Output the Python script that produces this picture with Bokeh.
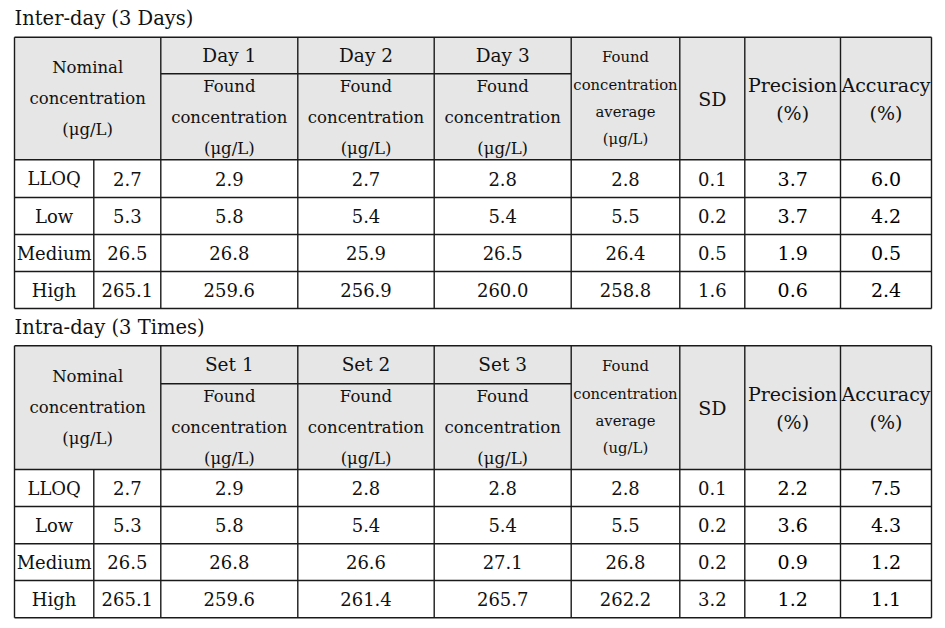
from bokeh.plotting import figure
from bokeh.models import ColumnDataSource, Range1d
from bokeh.core.properties import value
from bokeh.embed import file_html
from bokeh.resources import INLINE

# ---------------- data ----------------
levels = ["LLOQ", "Low", "Medium", "High"]
nominal = [2.7, 5.3, 26.5, 265.1]

inter_title = "Inter-day (3 Days)"
inter_groups = ["Day 1", "Day 2", "Day 3"]
inter_day1 = [2.9, 5.8, 26.8, 259.6]
inter_day2 = [2.7, 5.4, 25.9, 256.9]
inter_day3 = [2.8, 5.4, 26.5, 260.0]
inter_avg = [2.8, 5.5, 26.4, 258.8]
inter_sd = [0.1, 0.2, 0.5, 1.6]
inter_prec = [3.7, 3.7, 1.9, 0.6]
inter_acc = [6.0, 4.2, 0.5, 2.4]
inter_avg_unit = "(\u03bcg/L)"

intra_title = "Intra-day (3 Times)"
intra_groups = ["Set 1", "Set 2", "Set 3"]
intra_set1 = [2.9, 5.8, 26.8, 259.6]
intra_set2 = [2.8, 5.4, 26.6, 261.4]
intra_set3 = [2.8, 5.4, 27.1, 265.7]
intra_avg = [2.8, 5.5, 26.8, 262.2]
intra_sd = [0.1, 0.2, 0.2, 3.2]
intra_prec = [2.2, 3.6, 0.9, 1.2]
intra_acc = [7.5, 4.3, 1.2, 1.1]
intra_avg_unit = "(ug/L)"

# ---------------- layout (pixel space) ----------------
W, H = 945, 628
cols = [14, 93.3, 160.3, 297.3, 433.7, 570.7, 679.3, 744.3, 840, 931]
FONT = "DejaVu Serif"
LINE_C = "#1a1a1a"
HDR_FILL = "#e6e6e6"

p = figure(width=W, height=H, output_backend="svg", toolbar_location=None,
           x_range=Range1d(0, W), y_range=Range1d(H, 0),
           x_axis_type=None, y_axis_type=None, min_border=0,
           outline_line_color=None, background_fill_color="white",
           border_fill_color="white")
p.grid.visible = False


def txt(xs, ys, texts, size, align="center", weight="normal", font=FONT, color="#111111"):
    src = ColumnDataSource(dict(x=xs, y=ys, t=texts))
    p.text(x="x", y="y", text="t", source=src, text_font=value(font),
           text_font_size=value(f"{size}px"), text_align=align,
           text_baseline="middle", text_font_style=weight, text_color=color)


def table(title, title_y, top, split, hbot, rows, groups, series, avg, sd, prec, acc, avg_unit):
    # title
    txt([cols[0]], [title_y], [title], 19.5, align="left")
    # header background
    p.quad(left=[cols[0]], right=[cols[-1]], top=[top], bottom=[hbot],
           fill_color=HDR_FILL, line_color=None)
    # horizontal lines
    ys = [top, hbot] + rows
    p.segment(x0=[cols[0]] * len(ys), x1=[cols[-1]] * len(ys), y0=ys, y1=ys,
              line_color=LINE_C, line_width=1.4)
    p.segment(x0=[cols[2]], x1=[cols[5]], y0=[split], y1=[split],
              line_color=LINE_C, line_width=1.4)
    # vertical lines
    full = [cols[0], cols[2], cols[3], cols[4], cols[5], cols[6], cols[7], cols[8], cols[9]]
    p.segment(x0=full, x1=full, y0=[top] * len(full), y1=[rows[-1]] * len(full),
              line_color=LINE_C, line_width=1.4)
    p.segment(x0=[cols[1]], x1=[cols[1]], y0=[hbot], y1=[rows[-1]],
              line_color=LINE_C, line_width=1.4)

    c = (top + hbot) / 2
    mid = lambda a, b: (a + b) / 2
    hs = 16.5
    # nominal header
    xn = mid(cols[0], cols[2])
    txt([xn] * 3, [c - 31, c, c + 31], ["Nominal", "concentration", "(\u03bcg/L)"], hs)
    # group headers
    gx = [mid(cols[i], cols[i + 1]) for i in (2, 3, 4)]
    txt(gx, [mid(top, split)] * 3, groups, 18.5)
    for x in gx:
        txt([x] * 3, [split + 12.7, split + 43.7, split + 74.7],
            ["Found", "concentration", "(\u03bcg/L)"], hs)
    # average header
    xa = mid(cols[5], cols[6])
    txt([xa] * 4, [c - 42, c - 14, c + 13, c + 40],
        ["Found", "concentration", "average", avg_unit], 14.8)
    # SD
    txt([mid(cols[6], cols[7])], [c], ["SD"], 19)
    # precision / accuracy
    txt([mid(cols[7], cols[8])] * 2, [c - 14, c + 14], ["Precision", "(%)"], 19)
    txt([mid(cols[8], cols[9])] * 2, [c - 14, c + 14], ["Accuracy", "(%)"], 19)

    # data rows
    edges = [hbot] + rows
    ry = [mid(edges[i], edges[i + 1]) for i in range(len(levels))]
    ds = 18
    txt([mid(cols[0], cols[1])] * 4, ry, levels, ds)
    columns = [nominal] + series + [avg, sd]
    for k, vals in enumerate(columns):
        x = mid(cols[k + 1], cols[k + 2])
        txt([x] * 4, ry, [f"{v:.1f}" for v in vals], ds)
    txt([mid(cols[7], cols[8])] * 4, ry, [f"{v:.1f}" for v in prec], 19, color="#000000")
    txt([mid(cols[8], cols[9])] * 4, ry, [f"{v:.1f}" for v in acc], 19, color="#000000")


table(inter_title, 18, 36.7, 73.3, 159.3, [197, 234, 271, 308], inter_groups,
      [inter_day1, inter_day2, inter_day3], inter_avg, inter_sd, inter_prec, inter_acc,
      inter_avg_unit)
table(intra_title, 327, 345.3, 383.3, 469, [506, 543.3, 580, 617.3], intra_groups,
      [intra_set1, intra_set2, intra_set3], intra_avg, intra_sd, intra_prec, intra_acc,
      intra_avg_unit)

open("out.html", "w").write(file_html(p, INLINE))
